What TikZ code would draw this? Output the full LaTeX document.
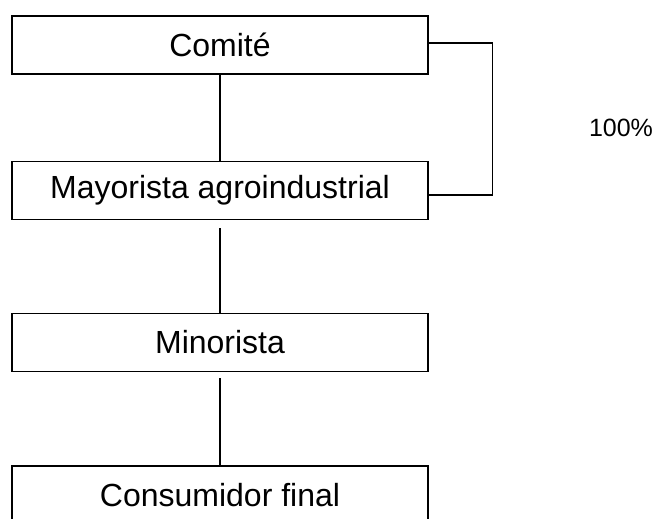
\documentclass[tikz,border=0pt]{standalone}
\usepackage{fontspec}
\setmainfont{Liberation Sans}
\begin{document}
\begin{tikzpicture}[box/.style={rectangle,draw,minimum width=416pt,minimum height=58pt,inner sep=0pt,font=\fontsize{32}{38}\selectfont},line width=1.3pt]
    \clip (0,0) rectangle (657pt,-519pt);

    \node (Com) at (220pt,-45pt) [box]{Comité};
    \node (May) at (220pt,-190.5pt) [box]{Mayorista agroindustrial};
    \node (Min) at (220pt,-342.5pt) [box]{Minorista};
    \node (Con) at (220pt,-495pt) [box]{Consumidor final};

    \node (pct) at (621pt,-128pt) [font=\fontsize{25}{30}\selectfont]{100\%};

    \draw (Com.south) to (May.north);
    \draw ([yshift=-8pt]May.south) to (Min.north);
    \draw ([yshift=-6pt]Min.south) to (Con.north);
    \draw ([yshift=2pt]Com.east) -- ++(64pt,0) |- ([yshift=-4.5pt]May.east);
\end{tikzpicture}
\end{document}
